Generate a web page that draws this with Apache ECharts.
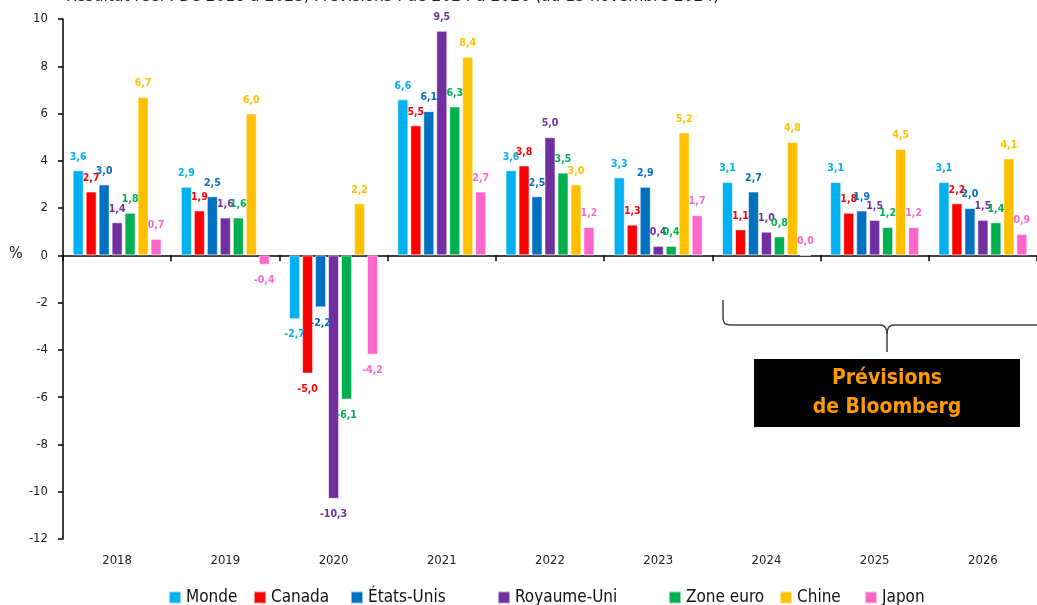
<!DOCTYPE html>
<html>
<head>
<meta charset="utf-8">
<script src="https://cdn.jsdelivr.net/npm/echarts@6/dist/echarts.min.js"></script>
<style>
html,body{margin:0;padding:0;background:#fff;}
#chart{width:1037px;height:605px;}
</style>
</head>
<body>
<div id="chart"></div>
<script>
const years = ['2018','2019','2020','2021','2022','2023','2024','2025','2026'];
const monde = [3.6, 2.9, -2.7, 6.6, 3.6, 3.3, 3.1, 3.1, 3.1];
const canada = [2.7, 1.9, -5.0, 5.5, 3.8, 1.3, 1.1, 1.8, 2.2];
const etatsUnis = [3.0, 2.5, -2.2, 6.1, 2.5, 2.9, 2.7, 1.9, 2.0];
const royaumeUni = [1.4, 1.6, -10.3, 9.5, 5.0, 0.4, 1.0, 1.5, 1.5];
const zoneEuro = [1.8, 1.6, -6.1, 6.3, 3.5, 0.4, 0.8, 1.2, 1.4];
const chine = [6.7, 6.0, 2.2, 8.4, 3.0, 5.2, 4.8, 4.5, 4.1];
const japon = [0.7, -0.4, -4.2, 2.7, 1.2, 1.7, 0.0, 1.2, 0.9];
const yTicks = { min: -12, max: 10, interval: 2 };
const titleText = 'Résultat réel : De 2018 à 2023, Prévisions : de 2024 à 2026 (au 15 novembre 2024)';

const FONT = '"DejaVu Sans Condensed", "DejaVu Sans", sans-serif';
const seriesDefs = [
  { name: 'Monde', data: monde, color: '#00B0F0', legendLeft: 168 },
  { name: 'Canada', data: canada, color: '#FF0000', legendLeft: 253 },
  { name: 'États-Unis', data: etatsUnis, color: '#0070C0', legendLeft: 350 },
  { name: 'Royaume-Uni', data: royaumeUni, color: '#7030A0', legendLeft: 497 },
  { name: 'Zone euro', data: zoneEuro, color: '#00B050', legendLeft: 668 },
  { name: 'Chine', data: chine, color: '#FFC000', legendLeft: 779 },
  { name: 'Japon', data: japon, color: '#FF66CC', legendLeft: 864 }
];

const fmt = v => v.toFixed(1).replace('.', ',');

const series = seriesDefs.map(s => ({
  name: s.name,
  type: 'bar',
  barWidth: 11,
  barGap: '18%',
  itemStyle: { color: s.color, borderColor: 'rgba(255,255,255,0.55)', borderWidth: 1 },
  label: {
    show: true,
    color: s.color,
    fontFamily: FONT,
    fontWeight: 'bold',
    fontSize: 10.5,
    formatter: p => fmt(p.value)
  },
  data: s.data.map(v => ({
    value: v,
    label: v < 0 ? { position: 'bottom', distance: 10 } : { position: 'top', distance: 8 }
  }))
}));

const legends = seriesDefs.map(s => ({
  data: [s.name],
  left: s.legendLeft,
  top: 589,
  icon: 'rect',
  itemWidth: 12,
  itemHeight: 12,
  padding: 0,
  selectedMode: false,
  textStyle: { fontFamily: FONT, fontSize: 17, color: '#111' }
}));

const braceStyle = { fill: 'none', stroke: '#444', lineWidth: 1.5 };
const braceLines = [
  [[723, 300], [723, 318]],
  [[730, 325], [880, 325]],
  [[887, 334], [887, 352]],
  [[894, 325], [1040, 325]]
].map(pts => ({ type: 'polyline', shape: { points: pts }, style: braceStyle }));
const braceCurves = [
  { x1: 723, y1: 318, cpx1: 723, cpy1: 325, x2: 730, y2: 325 },
  { x1: 880, y1: 325, cpx1: 887, cpy1: 325, x2: 887, y2: 334 },
  { x1: 894, y1: 325, cpx1: 887, cpy1: 325, x2: 887, y2: 334 }
].map(sh => ({ type: 'bezierCurve', shape: sh, style: braceStyle }));

const chart = echarts.init(document.getElementById('chart'));
chart.setOption({
  animation: false,
  backgroundColor: '#fff',
  color: seriesDefs.map(s => s.color),
  grid: { left: 63, right: -13, top: 19, bottom: 66, containLabel: false },
  legend: legends,
  xAxis: [
    {
      type: 'category',
      data: years,
      axisLine: { onZero: true, lineStyle: { color: '#000', width: 1.5 } },
      axisTick: { show: true, inside: false, length: 6, lineStyle: { color: '#000', width: 1.5 } },
      axisLabel: { show: false }
    },
    {
      type: 'category',
      data: years,
      position: 'bottom',
      axisLine: { show: false, onZero: false },
      axisTick: { show: false },
      axisLabel: { show: true, margin: 15, fontFamily: FONT, fontSize: 13, color: '#222' }
    }
  ],
  yAxis: {
    type: 'value',
    min: yTicks.min,
    max: yTicks.max,
    interval: yTicks.interval,
    splitLine: { show: false },
    axisLine: { show: true, lineStyle: { color: '#000', width: 1.5 } },
    axisTick: { show: true, length: 5, lineStyle: { color: '#000', width: 1.5 } },
    axisLabel: { margin: 15, fontFamily: FONT, fontSize: 13, color: '#222' }
  },
  series: series,
  graphic: [
    {
      type: 'text', x: 66, y: -12,
      style: { text: titleText, fontFamily: FONT, fontSize: 17.3, fill: '#222' }
    },
    {
      type: 'text', x: 9, y: 246,
      style: { text: '%', fontFamily: FONT, fontSize: 16, fill: '#222' }
    }
  ].concat(braceLines, braceCurves, [
    {
      type: 'rect',
      shape: { x: 754, y: 359, width: 266, height: 68 },
      style: { fill: '#000' }
    },
    {
      type: 'text', x: 887, y: 393,
      style: {
        text: 'Prévisions\nde Bloomberg',
        fontFamily: FONT, fontWeight: 'bold', fontSize: 21, lineHeight: 29,
        fill: '#FF9900', align: 'center', verticalAlign: 'middle'
      }
    }
  ])
});
</script>
</body>
</html>
